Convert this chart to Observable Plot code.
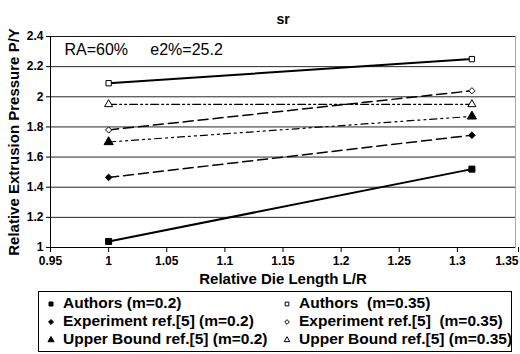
<!DOCTYPE html>
<html>
<head>
<meta charset="utf-8">
<script src="https://cdn.jsdelivr.net/npm/d3@7"></script>
<script src="https://cdn.jsdelivr.net/npm/@observablehq/plot@0.6"></script>
<style>
  html, body { margin: 0; padding: 0; background: #fff; }
  body { width: 520px; height: 354px; position: relative; overflow: hidden; font-family: "Liberation Sans", Arial, sans-serif; }
  #chart { position: absolute; left: 0; top: 0; }
  #legend { position: absolute; left: 38px; top: 291px; width: 474px; height: 61px; border: 1px solid #000; box-sizing: border-box; }
  .li { position: absolute; font-weight: bold; font-size: 15.5px; white-space: pre; line-height: 18px; }
  .li svg { position: absolute; left: 0; top: 4px; }
  .li span { position: absolute; left: 18px; top: 0; }
</style>
</head>
<body>
<div id="chart"></div>
<div id="legend"></div>
<script>
const xValues = [1, 1.3125];
const seriesNames = [
  "Authors (m=0.2)",
  "Authors  (m=0.35)",
  "Experiment ref.[5] (m=0.2)",
  "Experiment ref.[5]  (m=0.35)",
  "Upper Bound ref.[5] (m=0.2)",
  "Upper Bound ref.[5] (m=0.35)"
];
const authors02 = [1.04, 1.52];
const authors035 = [2.09, 2.25];
const experiment02 = [1.465, 1.745];
const experiment035 = [1.78, 2.04];
const upper02 = [1.70, 1.87];
const upper035 = [1.95, 1.95];
const xTicks = [0.95, 1, 1.05, 1.1, 1.15, 1.2, 1.25, 1.3, 1.35];
const yTicks = [1, 1.2, 1.4, 1.6, 1.8, 2, 2.2, 2.4];

const seriesValues = [authors02, authors035, experiment02, experiment035, upper02, upper035];
const styles = [
  {symbol: "square", fill: "#000", dash: null, width: 2, r: 3.4},
  {symbol: "square", fill: "#fff", dash: null, width: 2, r: 3},
  {symbol: "diamond2", fill: "#000", dash: "10,5", width: 1.5, r: 3},
  {symbol: "diamond2", fill: "#fff", dash: "10,5", width: 1.5, r: 2.8},
  {symbol: "triangle", fill: "#000", dash: "7,4,2,4,2,4", width: 1.2, r: 3.4},
  {symbol: "triangle", fill: "#fff", dash: "8,3,2,3,2,3", width: 1.2, r: 3}
];

const rows = [];
seriesNames.forEach((name, i) => {
  xValues.forEach((x, j) => rows.push({series: name, idx: i, x, y: seriesValues[i][j]}));
});

const fmt = d => String(+d.toFixed(2));
const marks = [
  Plot.frame({stroke: "#aaa"}),
  Plot.gridY(yTicks, {stroke: "#000", strokeOpacity: 0.85}),
  Plot.ruleX([0.95], {stroke: "#000"}),
  Plot.ruleY([1], {stroke: "#000"}),
  Plot.axisX(xTicks.slice(0, -1), {tickFormat: fmt, tickSize: 5, fontSize: 12, fontWeight: "bold", label: null, tickPadding: 4}),
  Plot.axisX(xTicks.slice(-1), {tickFormat: fmt, tickSize: 5, fontSize: 12, fontWeight: "bold", label: null, tickPadding: 4, textAnchor: "end", dx: 3}),
  Plot.axisY(yTicks, {tickFormat: fmt, tickSize: 4, fontSize: 12, fontWeight: "bold", label: null, tickPadding: 3})
];
seriesNames.forEach((name, i) => {
  const st = styles[i];
  const data = rows.filter(r => r.idx === i);
  marks.push(Plot.line(data, {x: "x", y: "y", stroke: "#000", strokeWidth: st.width, strokeDasharray: st.dash}));
});
seriesNames.forEach((name, i) => {
  const st = styles[i];
  const data = rows.filter(r => r.idx === i);
  marks.push(Plot.dot(data, {x: "x", y: "y", symbol: () => st.symbol, r: st.r, fill: st.fill, stroke: "#000", strokeWidth: 1}));
});
marks.push(
  Plot.text(["sr"], {frameAnchor: "top", dy: -22, fontSize: 14, fontWeight: "bold", fill: "#000"}),
  Plot.text(["RA=60%     e2%=25.2"], {frameAnchor: "top-left", dx: 14, dy: 7, textAnchor: "start", fontSize: 16, fill: "#000"}),
  Plot.text(["Relative Extrusion Pressure P/Y"], {frameAnchor: "left", dx: -36, rotate: -90, textAnchor: "middle", fontSize: 15, fontWeight: "bold", fill: "#000"}),
  Plot.text(["Relative Die Length L/R"], {frameAnchor: "bottom", dy: 36, fontSize: 15, fontWeight: "bold", fill: "#000"})
);

const chart = Plot.plot({
  width: 520,
  height: 290,
  marginLeft: 50,
  marginRight: 5,
  marginTop: 36,
  marginBottom: 43,
  style: {fontFamily: "'Liberation Sans', Arial, sans-serif", color: "#000", background: "#fff", overflow: "visible"},
  x: {domain: [0.95, 1.35]},
  y: {domain: [1, 2.4]},
  symbol: {type: "identity"},
  marks
});
document.getElementById("chart").appendChild(chart);

// Legend
const legend = document.getElementById("legend");
const legendPos = [[6, 6], [242, 6], [6, 24], [242, 24], [6, 42], [242, 42]];
const symMap = {square: d3.symbolSquare, diamond2: d3.symbolDiamond2, triangle: d3.symbolTriangle};
seriesNames.forEach((name, i) => {
  const st = styles[i];
  const div = document.createElement("div");
  div.className = "li";
  div.style.left = legendPos[i][0] + "px";
  div.style.top = (legendPos[i][1] - 4) + "px";
  const sym = d3.symbol().type(symMap[st.symbol]).size(st.fill === "#000" ? 16 : 14)();
  div.innerHTML = `<svg width="12" height="12" viewBox="-6 -6 12 12"><path d="${sym}" fill="${st.fill}" stroke="#000" stroke-width="1"/></svg><span>${name}</span>`;
  legend.appendChild(div);
});
</script>
</body>
</html>
